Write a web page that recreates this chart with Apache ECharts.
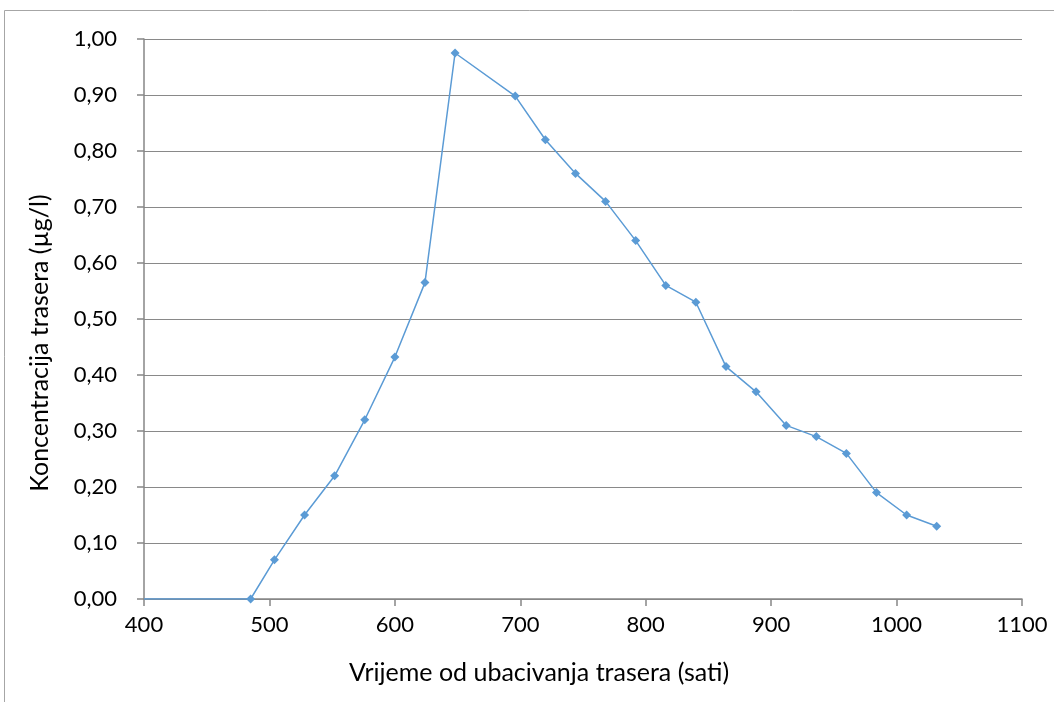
<!DOCTYPE html>
<html><head><meta charset="utf-8">
<script src="https://cdn.jsdelivr.net/npm/echarts@6/dist/echarts.min.js"></script>
<style>html,body{margin:0;padding:0;background:#fff}#c{width:1054px;height:702px}</style>
</head><body><div id="c"></div>
<script>
const hours = [400, 485, 504, 528, 552, 576, 600, 624, 648, 696, 720, 744, 768, 792, 816, 840, 864, 888, 912, 936, 960, 984, 1008, 1032];
const concentration = [0, 0, 0.07, 0.15, 0.22, 0.32, 0.432, 0.565, 0.975, 0.898, 0.82, 0.76, 0.71, 0.64, 0.56, 0.53, 0.415, 0.37, 0.31, 0.29, 0.26, 0.19, 0.15, 0.13];
const xTitle = 'Vrijeme od ubacivanja trasera (sati)';
const yTitle = 'Koncentracija trasera (µg/l)';
const FONT = 'Lato, "Open Sans", sans-serif';

const chart = echarts.init(document.getElementById('c'), null, {renderer: 'canvas'});
const data = hours.map((h, i) => {
  const item = {value: [h, concentration[i]]};
  if (i === 0) item.symbol = 'none';
  return item;
});
chart.setOption({
  animation: false,
  graphic: [{type: 'rect', shape: {x: 4.5, y: 10.5, width: 1100, height: 800}, style: {fill: null, stroke: '#a6a6a6', lineWidth: 1}, silent: true}],
  grid: {left: 144, right: 32, top: 39, bottom: 103},
  xAxis: {
    type: 'value', min: 400, max: 1100, interval: 100,
    name: xTitle, nameLocation: 'middle', nameGap: 61,
    nameTextStyle: {fontFamily: FONT, fontSize: 25, color: '#000', verticalAlign: 'top', padding: [0, 88, 0, 0]},
    axisLine: {show: true, lineStyle: {color: '#868686', width: 1.5}},
    axisTick: {show: true, inside: false, length: 7, lineStyle: {color: '#868686', width: 1.5}},
    axisLabel: {fontFamily: FONT, fontSize: 22, color: '#000', margin: 26, verticalAlign: 'middle',
      formatter: v => String(v)},
    splitLine: {show: false}
  },
  yAxis: {
    type: 'value', min: 0, max: 1, interval: 0.1,
    name: yTitle, nameLocation: 'middle', nameGap: 92, nameRotate: 90,
    nameTextStyle: {fontFamily: FONT, fontSize: 25, color: '#000', verticalAlign: 'bottom', padding: [0, 48, 0, 0]},
    axisLine: {show: true, lineStyle: {color: '#868686', width: 1.5}},
    axisTick: {show: true, inside: false, length: 7, lineStyle: {color: '#868686', width: 1.5}},
    axisLabel: {fontFamily: FONT, fontSize: 22, color: '#000', margin: 27,
      formatter: v => v.toFixed(2).replace('.', ',')},
    splitLine: {show: true, lineStyle: {color: '#898989', width: 1}}
  },
  series: [{
    type: 'line', data: data,
    symbol: 'diamond', symbolSize: 9,
    lineStyle: {color: '#5B9BD5', width: 1.5},
    itemStyle: {color: '#5B9BD5'},
    clip: true
  }]
});
</script></body></html>
